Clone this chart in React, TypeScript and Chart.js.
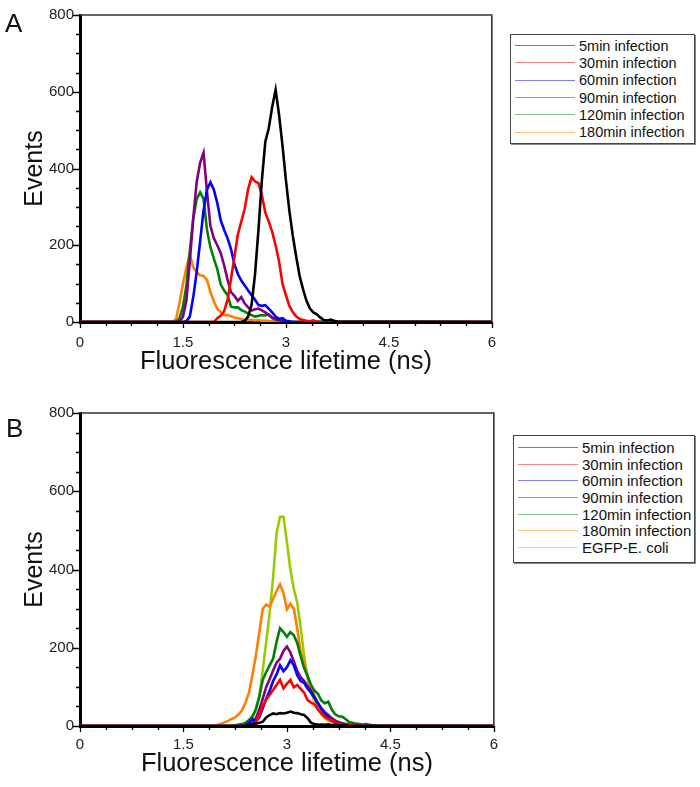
import React, { useEffect, useRef } from 'react';
import { Chart, registerables } from 'chart.js';

Chart.register(...registerables);

const FONT = '"Liberation Sans", Arial, Helvetica, sans-serif';

// ---------- Panel A data ----------
const lifetimeA = [
  0,
  1.35, 1.4, 1.45, 1.5, 1.55, 1.6, 1.65, 1.7, 1.75, 1.8,
  1.85, 1.9, 1.95, 2.0, 2.05, 2.1, 2.15, 2.2, 2.25, 2.3,
  2.35, 2.4, 2.45, 2.5, 2.55, 2.6, 2.65, 2.7, 2.75, 2.8,
  2.85, 2.9, 2.95, 3.0, 3.05, 3.1, 3.15, 3.2, 3.25, 3.3,
  3.35, 3.4, 3.45, 3.5, 3.55, 3.6, 3.65, 3.7, 3.75,
  6,
];
const a5min = [
  0,
  0, 0, 0, 0, 0, 0, 0, 0, 0, 0,
  0, 0, 0, 0, 0, 0, 0, 0, 0, 0,
  0, 3, 14, 45, 125, 240, 370, 470, 505, 560,
  605, 540, 460, 370, 290, 225, 170, 120, 85, 55,
  35, 25, 20, 12, 5, 4, 6, 3, 1,
  0,
];
const a30min = [
  0,
  0, 0, 0, 0, 0, 0, 0, 0, 0, 0,
  0, 0, 0, 10, 16, 28, 58, 112, 170, 228,
  262, 295, 347, 377, 366, 362, 330, 285, 262, 235,
  200, 158, 100, 70, 42, 26, 14, 8, 5, 3,
  2, 4, 1, 0, 0, 0, 0, 0, 0,
  0,
];
const a60min = [
  0,
  0, 0, 0, 0, 2, 14, 65, 130, 210, 290,
  345, 364, 345, 310, 265, 240, 218, 190, 150, 125,
  108, 95, 82, 70, 58, 44, 42, 44, 35, 25,
  14, 8, 10, 3, 2, 0, 0, 0, 0, 0,
  0, 0, 0, 0, 0, 0, 0, 0, 0,
  0,
];
const a90min = [
  0,
  0, 0, 0, 14, 56, 159, 270, 365, 415, 441,
  340, 250, 218, 200, 180, 148, 110, 78, 68, 55,
  65, 48, 38, 30, 33, 35, 30, 25, 18, 12,
  8, 5, 3, 1, 0, 0, 0, 0, 0, 0,
  0, 0, 0, 0, 0, 0, 0, 0, 0,
  0,
];
const a120min = [
  0,
  0, 0, 10, 40, 95, 185, 270, 320, 338, 321,
  240, 195, 165, 138, 98, 82, 70, 40, 38, 38,
  31, 27, 22, 18, 14, 16, 18, 17, 20, 10,
  6, 4, 2, 0, 0, 0, 0, 0, 0, 0,
  0, 0, 0, 0, 0, 0, 0, 0, 0,
  0,
];
const a180min = [
  0,
  0, 8, 50, 100, 142, 176, 142, 130, 122, 120,
  110, 78, 54, 34, 26, 18, 18, 15, 12, 10,
  8, 6, 5, 6, 4, 5, 3, 4, 2, 2,
  1, 0, 0, 0, 0, 0, 0, 0, 0, 0,
  0, 0, 0, 0, 0, 0, 0, 0, 0,
  0,
];

// ---------- Panel B data ----------
const lifetimeB = [
  0,
  1.9, 1.95, 2.0, 2.05, 2.1, 2.15, 2.2, 2.25, 2.3, 2.35,
  2.4, 2.45, 2.5, 2.55, 2.6, 2.65, 2.7, 2.75, 2.8, 2.85,
  2.9, 2.95, 3.0, 3.05, 3.1, 3.15, 3.2, 3.25, 3.3, 3.35,
  3.4, 3.45, 3.5, 3.55, 3.6, 3.65, 3.7, 3.75, 3.8, 3.85,
  3.9, 3.95, 4.0, 4.05, 4.1, 4.15, 4.2, 4.25, 4.3,
  6,
];
const b5min = [
  0,
  0, 0, 0, 0, 0, 0, 0, 0, 0, 0,
  0, 2, 5, 6, 8, 11, 22, 28, 32, 30,
  33, 32, 34, 37, 34, 33, 30, 28, 20, 8,
  5, 3, 4, 3, 4, 2, 3, 2, 1, 2,
  0, 0, 0, 0, 0, 0, 0, 0, 0,
  0,
];
const b30min = [
  0,
  0, 0, 0, 0, 0, 0, 0, 0, 0, 0,
  0, 2, 5, 10, 28, 50, 68, 80, 92, 105,
  118, 96, 108, 118, 99, 105, 95, 85, 66, 60,
  55, 42, 32, 24, 18, 14, 9, 6, 4, 3,
  2, 1, 0, 0, 0, 0, 0, 0, 0,
  0,
];
const b60min = [
  0,
  0, 0, 0, 0, 0, 0, 0, 0, 0, 0,
  2, 8, 18, 12, 22, 45, 70, 90, 115, 132,
  155, 140, 150, 168, 155, 130, 115, 110, 95, 85,
  72, 58, 44, 32, 22, 15, 10, 7, 5, 3,
  2, 1, 0, 0, 0, 0, 0, 0, 0,
  0,
];
const b90min = [
  0,
  0, 0, 0, 0, 0, 0, 0, 0, 0, 0,
  0, 3, 8, 20, 42, 70, 100, 120, 142, 162,
  172, 192, 203, 188, 165, 140, 125, 115, 102, 90,
  75, 58, 45, 35, 28, 20, 14, 10, 7, 5,
  3, 2, 1, 0, 0, 0, 0, 0, 0,
  0,
];
const b120min = [
  0,
  0, 0, 0, 0, 0, 0, 0, 2, 4, 5,
  8, 15, 25, 42, 75, 118, 138, 155, 172, 215,
  250, 240, 228, 240, 232, 212, 178, 148, 128, 105,
  90, 82, 65, 58, 62, 42, 30, 25, 24, 18,
  10, 8, 6, 5, 4, 5, 3, 2, 1,
  0,
];
const b180min = [
  0,
  0, 0, 3, 6, 10, 13, 18, 22, 30, 40,
  60, 85, 130, 180, 240, 300, 310, 305, 325, 345,
  362, 340, 298, 312, 300, 248, 190, 160, 128, 100,
  75, 50, 35, 22, 15, 12, 10, 8, 6, 5,
  4, 3, 2, 2, 1, 1, 0, 0, 0,
  0,
];
const bEgfp = [
  0,
  0, 0, 0, 0, 0, 0, 0, 0, 0, 0,
  3, 10, 20, 45, 75, 143, 215, 290, 380, 493,
  535, 535, 470, 400, 350, 315, 250, 180, 120, 88,
  62, 45, 30, 20, 14, 10, 7, 5, 3, 2,
  1, 0, 0, 0, 0, 0, 0, 0, 0,
  0,
];

const labelsA = [
  '5min infection',
  '30min infection',
  '60min infection',
  '90min infection',
  '120min infection',
  '180min infection',
];
const labelsB = [...labelsA, 'EGFP-E. coli'];
const colors = ['#000000', '#ff0000', '#0000ff', '#800080', '#008000', '#ff7f00', '#99cc00'];

const seriesA = [a5min, a30min, a60min, a90min, a120min, a180min];
const seriesB = [b5min, b30min, b60min, b90min, b120min, b180min, bEgfp];

const X_MIN = 0;
const X_MAX = 6;
const X_STEP = 1.5;
const X_MINOR = 0.375;
const Y_MIN = 0;
const Y_MAX = 800;
const Y_STEP = 200;
const Y_MINOR = 50;

const frameTicksPlugin = {
  id: 'frameTicks',
  afterDraw(chart: any) {
    const { ctx, chartArea, scales } = chart;
    const { left, right, top, bottom } = chartArea;
    const xs = scales.x;
    const ys = scales.y;
    ctx.save();
    ctx.strokeStyle = '#333';
    ctx.lineWidth = 1.6;
    ctx.beginPath();
    ctx.moveTo(left, top);
    ctx.lineTo(right, top);
    ctx.lineTo(right, bottom);
    ctx.stroke();
    ctx.strokeStyle = '#000';
    ctx.lineWidth = 1.3;
    ctx.beginPath();
    const nx = Math.round((X_MAX - X_MIN) / X_MINOR);
    for (let i = 0; i <= nx; i++) {
      const v = X_MIN + i * X_MINOR;
      const major = i % Math.round(X_STEP / X_MINOR) === 0;
      const px = Math.round(xs.getPixelForValue(v)) + 0.5;
      ctx.moveTo(px, bottom);
      ctx.lineTo(px, bottom + (major ? 6 : 4));
    }
    const ny = Math.round((Y_MAX - Y_MIN) / Y_MINOR);
    for (let i = 0; i <= ny; i++) {
      const v = Y_MIN + i * Y_MINOR;
      const major = i % Math.round(Y_STEP / Y_MINOR) === 0;
      const py = Math.round(ys.getPixelForValue(v)) + 0.5;
      ctx.moveTo(left, py);
      ctx.lineTo(left - (major ? 7 : 4), py);
    }
    ctx.stroke();
    ctx.restore();
  },
};

type PanelProps = {
  top: number;
  height: number;
  plotTop: number;
  xAxisHeight: number;
  tickPad: number;
  titlePad: number;
  lifetimes: number[];
  series: number[][];
  labels: string[];
};

const CANVAS_W = 508;

function Panel(props: PanelProps) {
  const ref = useRef<HTMLCanvasElement | null>(null);
  useEffect(() => {
    if (!ref.current) return;
    const datasets = props.series.map((vals, si) => ({
      label: props.labels[si],
      data: props.lifetimes.map((x, i) => ({ x, y: vals[i] })),
      borderColor: colors[si],
      backgroundColor: colors[si],
      borderWidth: 2.6,
      pointRadius: 0,
      tension: 0,
      fill: false,
    }));
    const chart = new Chart(ref.current, {
      type: 'line',
      data: { datasets },
      plugins: [frameTicksPlugin],
      options: {
        animation: false,
        responsive: false,
        maintainAspectRatio: false,
        layout: { padding: { top: props.plotTop, right: 8, left: 0, bottom: 0 } },
        plugins: { legend: { display: false }, tooltip: { enabled: false } },
        scales: {
          x: {
            type: 'linear',
            min: X_MIN,
            max: X_MAX,
            ticks: {
              stepSize: X_STEP,
              padding: props.tickPad,
              color: '#222',
              font: { family: FONT, size: 15 },
              maxRotation: 0,
              autoSkip: false,
            },
            grid: { display: false, drawTicks: false },
            border: { display: true, color: '#000', width: 3 },
            title: {
              display: true,
              text: 'Fluorescence lifetime (ns)',
              color: '#111',
              font: { family: FONT, size: 25.5 },
              padding: { top: 0, bottom: props.titlePad },
            },
            afterFit: (s: any) => {
              s.height = props.xAxisHeight;
            },
          },
          y: {
            type: 'linear',
            min: Y_MIN,
            max: Y_MAX,
            ticks: {
              stepSize: Y_STEP,
              padding: 6,
              color: '#222',
              font: { family: FONT, size: 15 },
            },
            grid: { display: false, drawTicks: false },
            border: { display: true, color: '#000', width: 3 },
            title: {
              display: true,
              text: 'Events',
              color: '#111',
              font: { family: FONT, size: 25 },
              padding: { top: 20, bottom: 0 },
            },
            afterFit: (s: any) => {
              s.width = 80;
            },
          },
        },
      } as any,
    });
    return () => chart.destroy();
  }, []);
  return (
    <canvas
      ref={ref}
      width={CANVAS_W}
      height={props.height}
      style={{ position: 'absolute', left: 0, top: props.top, width: CANVAS_W, height: props.height }}
    />
  );
}

function Legend(props: {
  left: number;
  top: number;
  width: number;
  height: number;
  rowH: number;
  padTop: number;
  fontSize: number;
  labels: string[];
}) {
  return (
    <div
      style={{
        position: 'absolute',
        left: props.left,
        top: props.top,
        width: props.width,
        height: props.height,
        boxSizing: 'border-box',
        border: '1px solid #444',
        boxShadow: '1px 1px 0 #888',
        background: '#fff',
        paddingTop: props.padTop,
        fontFamily: FONT,
        fontSize: props.fontSize,
        color: '#111',
      }}
    >
      {props.labels.map((lab, i) => (
        <div
          key={lab}
          style={{ display: 'flex', alignItems: 'center', height: props.rowH, whiteSpace: 'nowrap' }}
        >
          <div
            style={{
              width: 60,
              height: 1,
              marginLeft: 4,
              marginRight: 4,
              background: colors[i],
              opacity: 0.5,
            }}
          />
          <span>{lab}</span>
        </div>
      ))}
    </div>
  );
}

export default function App() {
  return (
    <div
      style={{
        position: 'absolute',
        left: 0,
        top: 0,
        width: 700,
        height: 787,
        background: '#fff',
        overflow: 'hidden',
      }}
    >
      <Panel
        top={0}
        height={393}
        plotTop={8}
        xAxisHeight={71}
        tickPad={12}
        titlePad={16}
        lifetimes={lifetimeA}
        series={seriesA}
        labels={labelsA}
      />
      <Panel
        top={393}
        height={394}
        plotTop={20}
        xAxisHeight={61}
        tickPad={10}
        titlePad={8}
        lifetimes={lifetimeB}
        series={seriesB}
        labels={labelsB}
      />
      <div style={{ position: 'absolute', left: 5, top: 8, fontFamily: FONT, fontSize: 26, color: '#111' }}>A</div>
      <div style={{ position: 'absolute', left: 6, top: 413, fontFamily: FONT, fontSize: 26, color: '#111' }}>B</div>
      <Legend left={510} top={34} width={185} height={110} rowH={17.3} padTop={2} fontSize={14.5} labels={labelsA} />
      <Legend left={513} top={435} width={182} height={128} rowH={16.7} padTop={3} fontSize={15} labels={labelsB} />
    </div>
  );
}
